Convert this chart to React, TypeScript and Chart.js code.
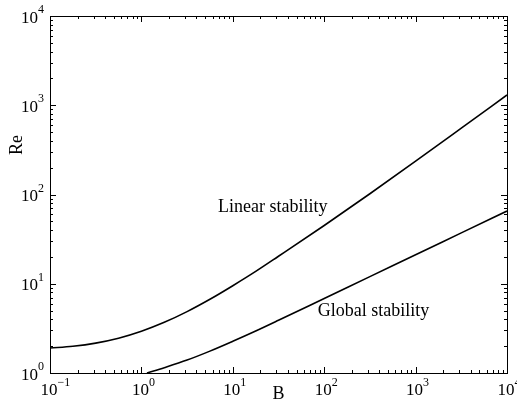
import React, { useEffect, useRef } from "react";
import { Chart, registerables } from "chart.js";

Chart.register(...registerables);

// Linear stability curve (B, Re)
const linearB = [0.1, 0.178, 0.316, 0.562, 1, 1.78, 3.16, 5.62, 10, 17.8, 31.6, 100, 316, 1000, 3162, 10000];
const linearRe = [1.905, 1.995, 2.163, 2.455, 2.938, 3.698, 4.875, 6.699, 9.506, 13.74, 20.32, 44.98, 101.9, 236.0, 553.4, 1303];

// Global stability curve (B, Re)
const globalB = [1.15, 1.78, 3.16, 5.62, 10, 17.8, 31.6, 100, 316, 1000, 3162, 10000];
const globalRe = [1.0, 1.148, 1.396, 1.758, 2.265, 2.951, 3.89, 6.839, 12.02, 21.13, 37.15, 65.31];

// Axis decades (exponents) and titles
const xExponents = ["-1", "0", "1", "2", "3", "4"];
const yExponents = ["0", "1", "2", "3", "4"];
const xTitle = "B";
const yTitle = "Re";

// Curve labels: [text, B, Re] anchor (left, baseline)
const curveLabels: [string, number, number][] = [
  ["Linear stability", 6.9, 63],
  ["Global stability", 85, 4.36],
];

const FONT = "'Liberation Serif', 'Times New Roman', serif";

const decoPlugin = {
  id: "deco",
  afterDraw(chart: any) {
    const ctx = chart.ctx as CanvasRenderingContext2D;
    const area = chart.chartArea;
    const xs = chart.scales.x;
    const ys = chart.scales.y;
    ctx.save();
    ctx.strokeStyle = "#000";
    ctx.fillStyle = "#000";
    ctx.lineWidth = 1;
    // frame
    ctx.strokeRect(Math.round(area.left) + 0.5, Math.round(area.top) + 0.5,
      Math.round(area.right - area.left), Math.round(area.bottom - area.top));

    // ticks
    const major = 6, minor = 3;
    ctx.beginPath();
    for (let d = -1; d <= 4; d++) {
      for (let m = 1; m <= 9; m++) {
        const v = m * Math.pow(10, d);
        if (v < 0.1 - 1e-9 || v > 10000 + 1e-6) continue;
        const len = m === 1 ? major : minor;
        const px = Math.round(xs.getPixelForValue(v)) + 0.5;
        ctx.moveTo(px, area.bottom);
        ctx.lineTo(px, area.bottom - len);
        ctx.moveTo(px, area.top);
        ctx.lineTo(px, area.top + len);
      }
    }
    for (let d = 0; d <= 4; d++) {
      for (let m = 1; m <= 9; m++) {
        const v = m * Math.pow(10, d);
        if (v < 1 - 1e-9 || v > 10000 + 1e-6) continue;
        const len = m === 1 ? major : minor;
        const py = Math.round(ys.getPixelForValue(v)) + 0.5;
        ctx.moveTo(area.left, py);
        ctx.lineTo(area.left + len, py);
        ctx.moveTo(area.right, py);
        ctx.lineTo(area.right - len, py);
      }
    }
    ctx.stroke();

    const baseFont = "17px " + FONT;
    const supFont = "12px " + FONT;

    // x tick labels
    ctx.textBaseline = "alphabetic";
    xExponents.forEach((e) => {
      const v = Math.pow(10, Number(e));
      const px = xs.getPixelForValue(v);
      ctx.font = baseFont;
      const w = ctx.measureText("10").width;
      const x0 = px - w / 2 - 1;
      ctx.textAlign = "left";
      ctx.fillText("10", x0, 395);
      ctx.font = supFont;
      ctx.fillText(e.replace("-", "\u2212"), x0 + w, 386);
    });

    // y tick labels (right-aligned)
    yExponents.forEach((e) => {
      const v = Math.pow(10, Number(e));
      const py = ys.getPixelForValue(v);
      ctx.font = supFont;
      const sw = ctx.measureText(e).width;
      ctx.font = baseFont;
      const w = ctx.measureText("10").width;
      const right = area.left - 6;
      ctx.textAlign = "left";
      ctx.fillText("10", right - sw - w, py + 6.5);
      ctx.font = supFont;
      ctx.fillText(e, right - sw, py - 3);
    });

    // axis titles
    ctx.font = "18px " + FONT;
    ctx.textAlign = "center";
    ctx.fillText(xTitle, (area.left + area.right) / 2, 399);
    ctx.save();
    ctx.translate(22, 145);
    ctx.rotate(-Math.PI / 2);
    ctx.fillText(yTitle, 0, 0);
    ctx.restore();

    // curve labels
    ctx.font = "18px " + FONT;
    ctx.textAlign = "left";
    curveLabels.forEach(([t, b, r]) => {
      ctx.fillText(t, xs.getPixelForValue(b), ys.getPixelForValue(r));
    });
    ctx.restore();
  },
};

export default function App() {
  const ref = useRef<HTMLCanvasElement | null>(null);
  useEffect(() => {
    if (!ref.current) return;
    const chart = new Chart(ref.current, {
      type: "line",
      data: {
        datasets: [
          {
            label: "Linear stability",
            data: linearB.map((b, i) => ({ x: b, y: linearRe[i] })),
            borderColor: "#000",
            borderWidth: 1.6,
            pointRadius: 0,
            cubicInterpolationMode: "monotone",
            fill: false,
          },
          {
            label: "Global stability",
            data: globalB.map((b, i) => ({ x: b, y: globalRe[i] })),
            borderColor: "#000",
            borderWidth: 1.6,
            pointRadius: 0,
            cubicInterpolationMode: "monotone",
            fill: false,
          },
        ],
      },
      options: {
        animation: false,
        responsive: false,
        devicePixelRatio: 1,
        layout: { padding: { top: 16, right: 10, left: 0, bottom: 0 } },
        plugins: { legend: { display: false }, tooltip: { enabled: false } },
        scales: {
          x: {
            type: "logarithmic",
            min: 0.1,
            max: 10000,
            grid: { display: false },
            border: { display: false },
            ticks: { display: false },
            afterFit: (s: any) => { s.height = 30; },
          },
          y: {
            type: "logarithmic",
            min: 1,
            max: 10000,
            grid: { display: false },
            border: { display: false },
            ticks: { display: false },
            afterFit: (s: any) => { s.width = 50; },
          },
        },
      },
      plugins: [decoPlugin],
    } as any);
    return () => chart.destroy();
  }, []);
  return (
    <div style={{ position: "fixed", left: 0, top: 0, width: 517, height: 403, background: "#fff" }}>
      <canvas ref={ref} width={517} height={403} style={{ display: "block", width: 517, height: 403 }} />
    </div>
  );
}
